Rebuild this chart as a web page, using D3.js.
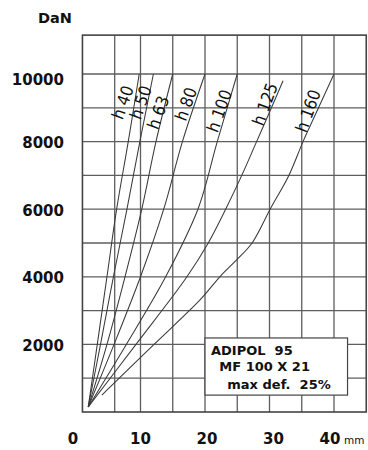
<!DOCTYPE html>
<html>
<head>
<meta charset="utf-8">
<script src="https://cdn.jsdelivr.net/npm/d3@7"></script>
<style>
  html, body { margin: 0; padding: 0; background: #fff; }
  svg { display: block; }
</style>
</head>
<body>
<svg id="chart" width="368" height="450"></svg>
<script>
// ---- data (deflection in mm, load in DaN) ----
const seriesNames = ["h 40", "h 50", "h 63", "h 80", "h 100", "h 125", "h 160"];
const h40  = [[1.9,150],[3.3,2000],[4.8,4000],[6.3,6000],[8.1,8000],[9.8,10000]];
const h50  = [[1.9,150],[3.8,2000],[5.8,4000],[7.9,6000],[9.9,8000],[12.0,10000]];
const h63  = [[1.9,150],[4.8,2000],[7.6,4000],[10.2,6000],[12.4,8000],[15.0,10000]];
const h80  = [[1.9,150],[5.9,2000],[10.0,4000],[13.6,6000],[16.5,8000],[20.0,10000]];
const h100 = [[1.9,150],[7.8,2000],[13.9,4000],[18.9,6000],[21.9,8000],[25.0,10000]];
const h125 = [[1.9,150],[9.3,2000],[17.2,4000],[20.5,5000],[23.2,6000],[25.7,7000],[28.0,8000],[30.3,9000],[32.1,9800]];
const h160 = [[4.0,500],[12.1,2000],[19.3,3330],[22.3,4000],[24.9,4500],[27.3,5000],[30.1,6000],[33.0,7000],[35.2,8000],[37.6,9000],[40.0,10000]];
const seriesData = [h40, h50, h63, h80, h100, h125, h160];

const xTickLabels = [0, 10, 20, 30, 40];
const yTickLabels = [2000, 4000, 6000, 8000, 10000];
const xGridValues = [6, 10, 15, 20, 25, 30, 35, 40];
const yGridValues = [1000, 2000, 3000, 4000, 5000, 6000, 7000, 8000, 9000, 10000];
const infoLines = ["ADIPOL  95", "MF 100 X 21", "max def.  25%"];

// ---- scales ----
const x = d3.scaleLinear().domain([0, 10]).range([76, 140.5]);
const y = d3.scaleLinear().domain([0, 10000]).range([412, 74]);
const xMin = 1, xMax = 45, yMin = 0, yMax = 11150;

const svg = d3.select("#chart");
const boldFont = "'DejaVu Sans', Verdana, sans-serif";

// grid
const grid = svg.append("g");
grid.selectAll("line.v").data(xGridValues).join("line")
  .attr("x1", d => x(d)).attr("x2", d => x(d))
  .attr("y1", y(yMin)).attr("y2", y(yMax))
  .attr("stroke", "#5e5e5e").attr("stroke-width", 1.3);
grid.selectAll("line.h").data(yGridValues).join("line")
  .attr("y1", d => y(d)).attr("y2", d => y(d))
  .attr("x1", x(xMin)).attr("x2", x(xMax))
  .attr("stroke", "#5e5e5e").attr("stroke-width", 1.3);
// border
svg.append("rect")
  .attr("x", x(xMin)).attr("y", y(yMax))
  .attr("width", x(xMax) - x(xMin)).attr("height", y(yMin) - y(yMax))
  .attr("fill", "none").attr("stroke", "#444").attr("stroke-width", 1.6);

// curves
const line = d3.line().x(d => x(d[0])).y(d => y(d[1])).curve(d3.curveCatmullRom.alpha(0.5));
svg.append("g").selectAll("path").data(seriesData).join("path")
  .attr("d", line)
  .attr("fill", "none").attr("stroke", "#3a3a3a").attr("stroke-width", 1.05);

// curve labels: placed just left of each curve near its top
function xAt(data, v) {
  for (let i = 1; i < data.length; i++) {
    if (data[i][1] >= v) {
      const a = data[i-1], b = data[i];
      const t = (v - a[1]) / (b[1] - a[1]);
      return a[0] + t * (b[0] - a[0]);
    }
  }
  return data[data.length-1][0];
}
const labelLevel = [9150, 9150, 8850, 9100, 8900, 9100, 8900];
const labelShift = [-11, -6, -4, -8, -6, -7, -8];
svg.append("g").selectAll("text").data(seriesNames).join("text")
  .each(function(name, i) {
    const lv = labelLevel[i];
    const px = x(xAt(seriesData[i], lv)) + labelShift[i], py = y(lv);
    d3.select(this)
      .attr("transform", `translate(${px},${py}) rotate(-70)`)
      .attr("text-anchor", "middle").attr("dominant-baseline", "middle")
      .attr("font-family", "'DejaVu Sans', sans-serif")
      .attr("font-stretch", "condensed")
      .attr("font-size", 17).attr("fill", "#111")
      .text(name);
  });

// y tick labels
svg.append("g").selectAll("text").data(yTickLabels).join("text")
  .attr("x", 64).attr("y", d => y(d) + (d === 10000 ? 6 : 2))
  .attr("text-anchor", "end").attr("dominant-baseline", "middle")
  .attr("font-family", boldFont).attr("font-weight", "bold")
  .attr("font-size", 15).attr("fill", "#111")
  .text(d => d);
svg.append("text")
  .attr("x", 72).attr("y", 23).attr("text-anchor", "end")
  .attr("font-family", boldFont).attr("font-weight", "bold")
  .attr("font-size", 14.5).attr("fill", "#111").text("DaN");

// x tick labels
const xLabelNudge = [-3, 0, 2, 4, -4];
svg.append("g").selectAll("text").data(xTickLabels).join("text")
  .attr("x", (d, i) => x(d) + xLabelNudge[i]).attr("y", 444)
  .attr("text-anchor", "middle")
  .attr("font-family", boldFont).attr("font-weight", "bold")
  .attr("font-size", 15).attr("fill", "#111")
  .text(d => d);
svg.append("text")
  .attr("x", x(40) + 10).attr("y", 444)
  .attr("font-family", boldFont)
  .attr("font-size", 10.5).attr("fill", "#111").text("mm");

// info box
const bx0 = x(20), bx1 = x(42.1), by0 = y(2190), by1 = y(500);
svg.append("rect")
  .attr("x", bx0).attr("y", by0).attr("width", bx1 - bx0).attr("height", by1 - by0)
  .attr("fill", "#fff").attr("stroke", "#444").attr("stroke-width", 1.2);
const infoOffsets = [6, 14.3, 22.3];
const infoBaselines = [17.4, 33.4, 50.7];
svg.append("g").selectAll("text").data(infoLines).join("text")
  .attr("x", (d, i) => bx0 + infoOffsets[i])
  .attr("y", (d, i) => by0 + infoBaselines[i])
  .attr("xml:space", "preserve").style("white-space", "pre")
  .attr("font-family", boldFont).attr("font-weight", "bold")
  .attr("font-size", 13).attr("fill", "#111")
  .text(d => d);
</script>
</body>
</html>
